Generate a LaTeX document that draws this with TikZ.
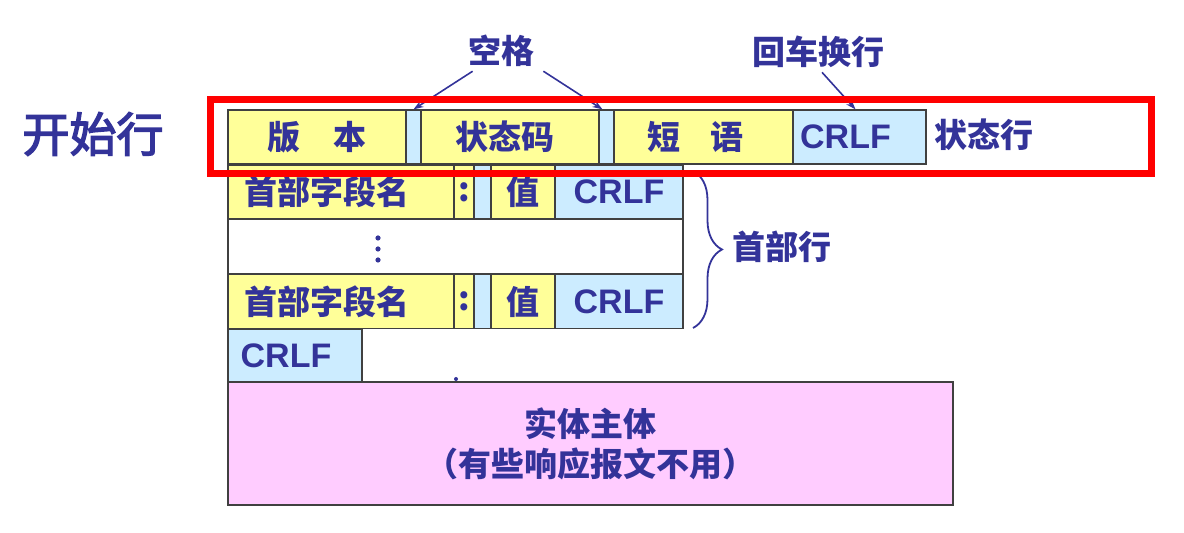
\documentclass[tikz,border=0pt]{standalone}
\usepackage{fontspec}
\usetikzlibrary{arrows.meta,decorations.pathreplacing}
\newfontfamily\cjk{Noto Sans CJK SC}
\newfontfamily\cjklabel[FakeBold=3]{Noto Sans CJK SC}
\newfontfamily\arialfont{Liberation Sans}
\definecolor{navy}{HTML}{333399}
\definecolor{fieldyellow}{HTML}{FFFF99}
\definecolor{fieldblue}{HTML}{CCECFF}
\definecolor{bodypink}{HTML}{FFCCFF}
\definecolor{linegray}{HTML}{404040}
\newcommand{\padright}[1]{\hspace{#1}\mbox{}}

\tikzset{
  cell/.style={draw=linegray, line width=0.6pt, inner sep=0pt, minimum height=27pt,
    text=navy, font=\cjk\bfseries\fontsize{16.5}{18}\selectfont},
  yellowcell/.style={cell, fill=fieldyellow},
  bluecell/.style={cell, fill=fieldblue},
  crlfcell/.style={bluecell, font=\arialfont\bfseries\fontsize{17}{18}\selectfont},
  tag/.style={text=navy, inner sep=2pt, font=\cjk\bfseries\fontsize{16.5}{18}\selectfont},
  pointer/.style={draw=navy, line width=0.8pt, -{Stealth[length=5pt,width=3.5pt]}},
}

\begin{document}
\begin{tikzpicture}[x=0.5pt,y=-0.5pt]

      \useasboundingbox (0,0) rectangle (1184,533);

      % status line
      \node[yellowcell, minimum width=89pt]   (version) at (317,137)   {版\hspace{1em}本};
      \node[bluecell,   minimum width=7.5pt]  (sp1)     at (413.5,137) {};
      \node[yellowcell, minimum width=89pt]   (code)    at (510,137)   {状态码\padright{5pt}};
      \node[bluecell,   minimum width=7.5pt]  (sp2)     at (606.5,137) {};
      \node[yellowcell, minimum width=89.5pt] (phrase)  at (703.5,137) {短\hspace{0.9em}语\padright{8pt}};
      \node[crlfcell,   minimum width=66.5pt] (crlf0)   at (859.5,137) {CRLF\padright{14pt}};

      % header lines
      \node[yellowcell, minimum width=113pt]  (name1)  at (341,192)   {首部字段名\padright{14pt}};
      \node[yellowcell, minimum width=10pt]   (colon1) at (464,192)   {:};
      \node[bluecell,   minimum width=8.5pt]  (sp3)    at (482.5,192) {};
      \node[yellowcell, minimum width=32pt]   (value1) at (523,192)   {值};
      \node[crlfcell,   minimum width=64pt]   (crlf1)  at (619,192)   {CRLF};

      \node[cell, fill=white, minimum width=227.5pt] (dots) at (455.5,246.5) {};
      \foreach \y in {238,249,260}
        \fill[navy] (378,\y) circle[radius=1.3pt];

      \node[yellowcell, minimum width=113pt]  (name2)  at (341,301.5)   {首部字段名\padright{14pt}};
      \node[yellowcell, minimum width=10pt]   (colon2) at (464,301.5)   {:};
      \node[bluecell,   minimum width=8.5pt]  (sp4)    at (482.5,301.5) {};
      \node[yellowcell, minimum width=32pt]   (value2) at (523,301.5)   {值};
      \node[crlfcell,   minimum width=64pt]   (crlf2)  at (619,301.5)   {CRLF};

      % empty line and body
      \node[crlfcell, minimum width=67pt, minimum height=26.5pt] (crlf3) at (295,355.5) {CRLF\padright{9pt}};
      \fill[navy] (456,379) circle[radius=1pt];
      \node[cell, fill=bodypink, minimum width=362.5pt, minimum height=61.5pt, align=center,
        font=\cjk\bfseries\fontsize{16.5}{20}\selectfont] (body) at (590.5,443.5)
        {实体主体\\（有些响应报文不用）};

      % labels
      \node[tag] (space)    at (501,51)  {空格};
      \node[tag] (crlfnote) at (818,52)  {回车换行};
      \node[tag] (headnote) at (782,247) {首部行};
      \node[tag] (statusnote) at (984,135) {状态行};
      \node[tag, font=\cjklabel\fontsize{23.5}{26}\selectfont] (startnote) at (93,134) {开始行};

      \draw[pointer] ([xshift=4.5pt]space.south west) -- (sp1.north);
      \draw[pointer] ([xshift=2.5pt]space.south east) -- ([xshift=-2pt]sp2.north);
      \draw[pointer] ([xshift=2pt]crlfnote.south) -- ([xshift=-2pt]crlf0.north);

      \draw[navy, line width=0.9pt, decorate, decoration={brace, amplitude=14.5pt}]
        (693,171) -- (693,328);

      % start line frame
      \draw[red, line width=3.5pt] (210.5,100) rectangle (1151.5,174);

    \end{tikzpicture}
\end{document}
